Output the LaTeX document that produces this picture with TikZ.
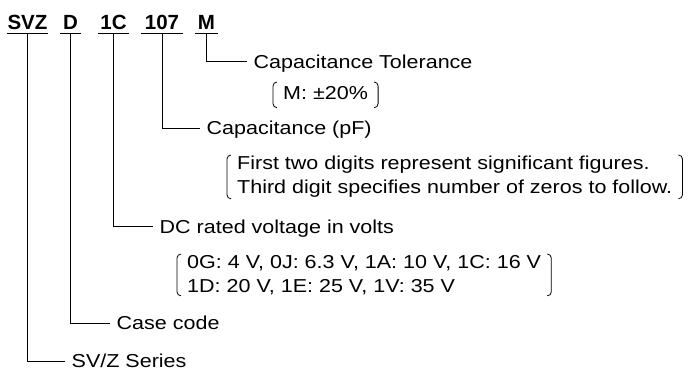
\documentclass[tikz,border=0pt]{standalone}
\usepackage{fontspec}
\usepackage{tikz}
\newfontfamily\bodyFont{Liberation Sans}[FakeStretch=1.15]
\newfontfamily\codeFont{Liberation Sans}
\tikzstyle{diagram} = [x = 1pt, y = -1pt]
\tikzstyle{codeStyle} = [font=\codeFont\bfseries\fontsize{20.5}{24}\selectfont, anchor=base, inner xsep=0pt, inner ysep=3.5pt, text depth=0pt]
\tikzstyle{underLine} = [color=black, line width=1.1pt]
\tikzstyle{leadLine} = [color=black, line width=0.9pt]
\tikzstyle{labelText} = [font=\bodyFont\fontsize{18.7}{24}\selectfont, anchor=west, inner xsep=6.5pt, inner ysep=0pt, text height=13.4pt, text depth=0pt]
\tikzstyle{noteText} = [font=\bodyFont\fontsize{18.7}{24}\selectfont, align=left, anchor=north west, inner xsep=10pt, inner ysep=1pt]
\tikzstyle{bracketLine} = [color=black, line width=0.8pt, rounded corners = 4pt]
\newcommand{\bw}{4pt}
\newcommand{\codeUnderline}[1]{\draw [underLine] (#1.south west) -- (#1.south east);}
\newcommand{\noteBrackets}[1]{
  \draw [bracketLine] ([xshift=\bw]#1.north west) -- (#1.north west) -- (#1.south west) -- ([xshift=\bw]#1.south west);
  \draw [bracketLine] ([xshift=-\bw]#1.north east) -- (#1.north east) -- (#1.south east) -- ([xshift=-\bw]#1.south east);
}
\begin{document}
\begin{tikzpicture}[diagram]
       \useasboundingbox (0,0) rectangle (692,371);

       % part number
       \node [codeStyle, minimum width=39pt] (svz) at (27.5,29.5) {SVZ};
       \node [codeStyle, minimum width=21pt] (case) at (70.5,29.5) {D};
       \node [codeStyle, minimum width=31pt] (volt) at (113.5,29.5) {1C};
       \node [codeStyle, minimum width=42pt] (cap) at (162,29.5) {107};
       \node [codeStyle, minimum width=23pt] (tol) at (206.5,29.5) {M};
       \foreach \code in {svz,case,volt,cap,tol} {
         \codeUnderline{\code}
       }

       % labels
       \node [labelText] (tolLabel) at (247,61.5) {Capacitance Tolerance};
       \node [labelText] (capLabel) at (200,128) {Capacitance (pF)};
       \node [labelText] (voltLabel) at (153,226.5) {DC rated voltage in volts};
       \node [labelText] (caseLabel) at (110,323) {Case code};
       \node [labelText] (svzLabel) at (65,361) {SV/Z Series};

       % notes
       \node [noteText, text height=13.4pt, text depth=3.9pt, inner ysep=4pt] (tolNote) at (273,82) {M: ±20\%};
       \node [noteText] (capNote) at (227,155) {First two digits represent significant figures.\\Third digit specifies number of zeros to follow.};
       \node [noteText] (voltNote) at (177,254) {0G: 4 V, 0J: 6.3 V, 1A: 10 V, 1C: 16 V\\1D: 20 V, 1E: 25 V, 1V: 35 V};
       \noteBrackets{tolNote}
       \noteBrackets{capNote}
       \noteBrackets{voltNote}

       % lead lines
       \draw [leadLine] (tol.south) |- (tolLabel.west);
       \draw [leadLine] (cap.south) |- (capLabel.west);
       \draw [leadLine] (volt.south) |- (voltLabel.west);
       \draw [leadLine] (case.south) |- (caseLabel.west);
       \draw [leadLine] (svz.south) |- (svzLabel.west);
     \end{tikzpicture}
\end{document}
